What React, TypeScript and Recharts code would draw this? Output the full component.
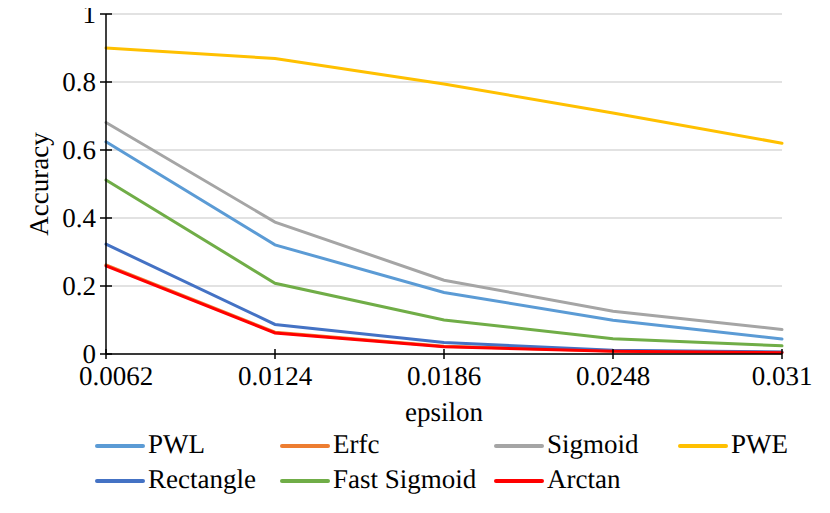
import { CartesianGrid, Legend, Line, LineChart, XAxis, YAxis } from 'recharts'

const epsilons = ['0.0062', '0.0124', '0.0186', '0.0248', '0.031']
const pwl = [0.624, 0.321, 0.181, 0.099, 0.044]
const erfc = [0.262, 0.064, 0.023, 0.009, 0.005]
const sigmoid = [0.681, 0.388, 0.217, 0.126, 0.072]
const pwe = [0.9, 0.869, 0.794, 0.709, 0.62]
const rectangle = [0.323, 0.087, 0.034, 0.011, 0.006]
const fastSigmoid = [0.512, 0.208, 0.1, 0.045, 0.024]
const arctan = [0.259, 0.062, 0.021, 0.008, 0.004]
const yTicks = [0, 0.2, 0.4, 0.6, 0.8, 1]

const data = epsilons.map((eps, i) => ({
  eps,
  PWL: pwl[i],
  Erfc: erfc[i],
  Sigmoid: sigmoid[i],
  PWE: pwe[i],
  Rectangle: rectangle[i],
  'Fast Sigmoid': fastSigmoid[i],
  Arctan: arctan[i],
}))

const series = [
  { key: 'PWL', color: '#5B9BD5' },
  { key: 'Erfc', color: '#ED7D31' },
  { key: 'Sigmoid', color: '#A5A5A5' },
  { key: 'PWE', color: '#FFC000' },
  { key: 'Rectangle', color: '#4472C4' },
  { key: 'Fast Sigmoid', color: '#70AD47' },
  { key: 'Arctan', color: '#FF0000' },
]

const txt = {
  fontFamily: "'Liberation Serif', 'Times New Roman', serif",
  fontSize: 27,
  fill: '#000',
  textRendering: 'geometricPrecision' as const,
}

function YTick(props: any) {
  const { x, y, payload } = props
  return (
    <g>
      <line x1={x - 6} x2={x + 6} y1={y} y2={y} stroke="#000" strokeWidth={1.5} />
      <text x={x - 10} y={y} dy="0.35em" textAnchor="end" style={txt}>
        {payload.value}
      </text>
    </g>
  )
}

function XTick(props: any) {
  const { x, y, payload, index } = props
  // first label sits a little right of its tick, as in the source
  const dx = index === 0 ? 10 : 0
  return (
    <g>
      <line x1={x} x2={x} y1={y - 5} y2={y + 5} stroke="#000" strokeWidth={1.5} />
      <text x={x + dx} y={y + 31} textAnchor="middle" style={txt}>
        {payload.value}
      </text>
    </g>
  )
}

const colX = [97, 282, 496, 680]
const rowY = [26, 61]

function LegendBox() {
  return (
    <svg width={830} height={80} style={{ display: 'block' }}>
      {series.map((s, i) => {
        const x = colX[i % 4]
        const y = rowY[Math.floor(i / 4)]
        return (
          <g key={s.key}>
            <line x1={x} x2={x + 46} y1={y} y2={y} stroke={s.color} strokeWidth={4} strokeLinecap="round" />
            <text x={x + 51} y={y + 7} style={txt}>
              {s.key}
            </text>
          </g>
        )
      })}
    </svg>
  )
}

export default function App() {
  return (
    <div style={{ position: 'relative', width: 830, height: 513, margin: -8, background: '#fff' }}>
      <LineChart width={830} height={513} data={data} margin={{ top: 14, right: 48, bottom: 0, left: 0 }}>
        <CartesianGrid vertical={false} stroke="#d9d9d9" strokeWidth={1.5} />
        <XAxis
          dataKey="eps"
          height={159}
          interval={0}
          tickSize={0}
          tickMargin={0}
          tickLine={false}
          axisLine={{ stroke: '#000', strokeWidth: 1.5 }}
          tick={<XTick />}
          label={(p: any) => {
            const vb = p.viewBox || { x: 106, y: 354, width: 676, height: 159 }
            return (
              <text x={vb.x + vb.width / 2} y={vb.y + 67} textAnchor="middle" style={txt}>
                epsilon
              </text>
            )
          }}
        />
        <YAxis
          width={106}
          domain={[0, 1]}
          ticks={yTicks}
          tickSize={0}
          tickMargin={0}
          tickLine={false}
          axisLine={{ stroke: '#000', strokeWidth: 1.5 }}
          tick={<YTick />}
          label={(p: any) => {
            const vb = p.viewBox || { x: 0, y: 14, width: 106, height: 340 }
            const cx = vb.x + 48
            const cy = vb.y + vb.height / 2
            return (
              <text x={cx} y={cy} transform={`rotate(-90, ${cx}, ${cy})`} textAnchor="middle" style={txt}>
                Accuracy
              </text>
            )
          }}
        />
        <Legend
          layout="horizontal"
          verticalAlign="middle"
          align="center"
          wrapperStyle={{ position: 'absolute', top: 420, left: 0, width: 830, height: 80 }}
          content={<LegendBox />}
        />
        {series.map((s) => (
          <Line
            key={s.key}
            type="linear"
            dataKey={s.key}
            stroke={s.color}
            strokeWidth={3}
            strokeLinecap="round"
            dot={false}
            activeDot={false}
            isAnimationActive={false}
          />
        ))}
      </LineChart>
    </div>
  )
}
